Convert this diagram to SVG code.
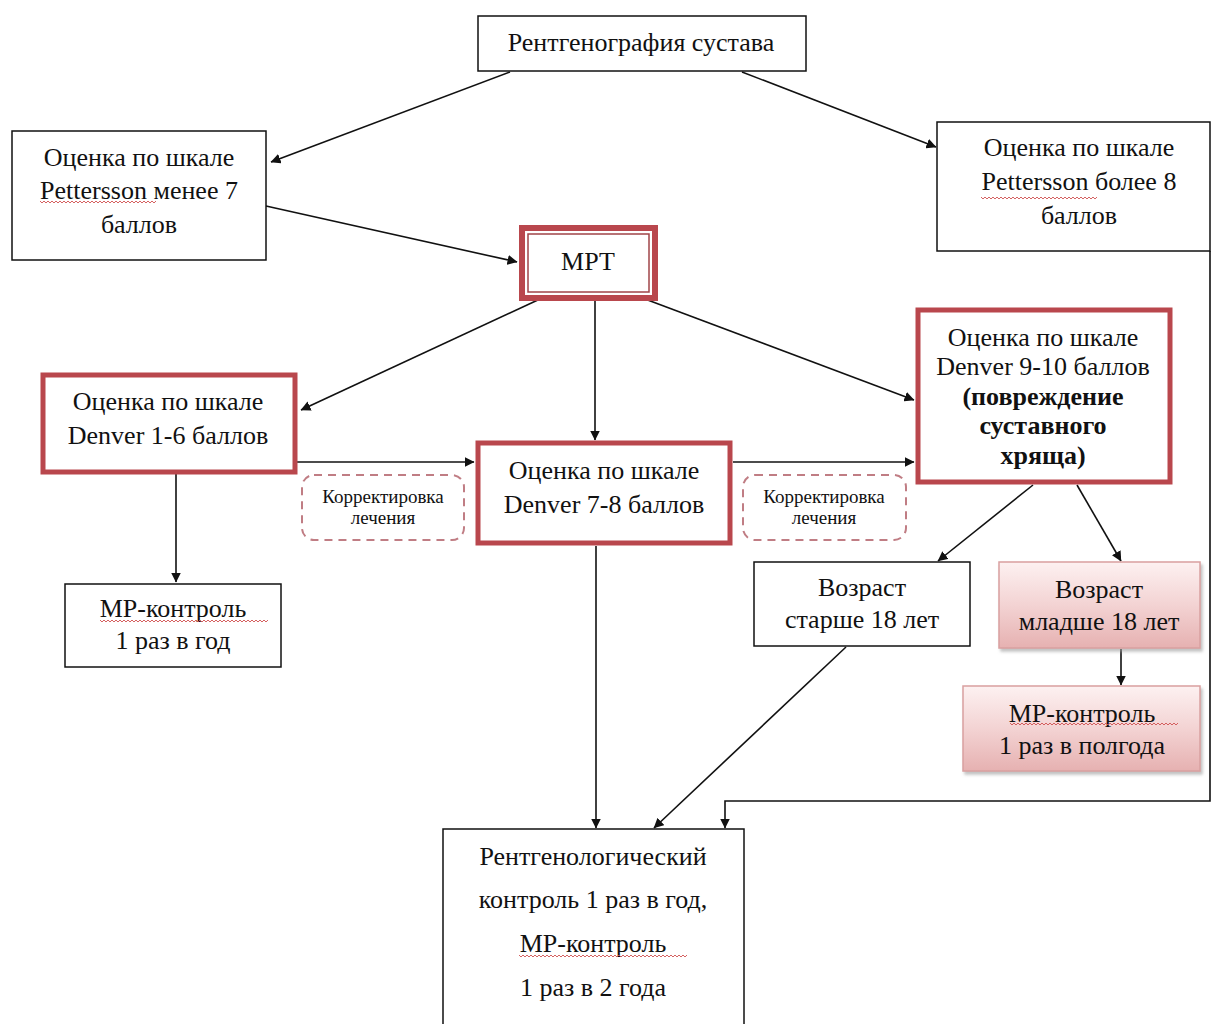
<svg xmlns="http://www.w3.org/2000/svg" width="1212" height="1024" viewBox="0 0 1212 1024" font-family="'Liberation Serif', 'Times New Roman', serif">
<style>
text{font-size:26px;fill:#111;text-anchor:middle}
.b{font-weight:bold}
.s{font-size:19px}
.box{fill:#fff;stroke:#111;stroke-width:1.5}
.red{fill:#fff;stroke:#b9474d;stroke-width:5}
.dash{fill:#fff;stroke:#c07d84;stroke-width:2;stroke-dasharray:8 6}
.pink{fill:url(#pg);stroke:#d9a0a0;stroke-width:1.5}
.c{fill:none;stroke:#111;stroke-width:1.6;marker-end:url(#ah)}
.wave{fill:none;stroke:#d05050;stroke-width:0.9}
</style>
<defs>
<marker id="ah" viewBox="0 0 10 10" refX="9.5" refY="5" markerWidth="10" markerHeight="10" markerUnits="userSpaceOnUse" orient="auto">
<path d="M0,0 L10,5 L0,10 z" fill="#111"/>
</marker>
<linearGradient id="pg" x1="0" y1="0" x2="0" y2="1">
<stop offset="0" stop-color="#fdf1f1"/>
<stop offset="0.5" stop-color="#f3d3d3"/>
<stop offset="1" stop-color="#e6b1b1"/>
</linearGradient>
<filter id="sh" x="-5%" y="-5%" width="115%" height="125%">
<feDropShadow dx="2" dy="3" stdDeviation="1.5" flood-color="#999" flood-opacity="0.6"/>
</filter>
<path id="w108" d="M0,0 l2,2 2,-2 2,2 2,-2 2,2 2,-2 2,2 2,-2 2,2 2,-2 2,2 2,-2 2,2 2,-2 2,2 2,-2 2,2 2,-2 2,2 2,-2 2,2 2,-2 2,2 2,-2 2,2 2,-2 2,2 2,-2 2,2 2,-2 2,2 2,-2 2,2 2,-2 2,2 2,-2 2,2 2,-2 2,2 2,-2 2,2 2,-2 2,2 2,-2 2,2 2,-2 2,2 2,-2 2,2 2,-2 2,2 2,-2 2,2 2,-2 2,2 2,-2 2,2 2,-2"/>
<path id="w144" d="M0,0 l2,2 2,-2 2,2 2,-2 2,2 2,-2 2,2 2,-2 2,2 2,-2 2,2 2,-2 2,2 2,-2 2,2 2,-2 2,2 2,-2 2,2 2,-2 2,2 2,-2 2,2 2,-2 2,2 2,-2 2,2 2,-2 2,2 2,-2 2,2 2,-2 2,2 2,-2 2,2 2,-2 2,2 2,-2 2,2 2,-2 2,2 2,-2 2,2 2,-2 2,2 2,-2 2,2 2,-2 2,2 2,-2 2,2 2,-2 2,2 2,-2 2,2 2,-2 2,2 2,-2 2,2 2,-2 2,2 2,-2 2,2 2,-2 2,2 2,-2 2,2 2,-2 2,2 2,-2 2,2 2,-2 2,2 2,-2 2,2 2,-2 2,2 2,-2 2,2 2,-2 2,2 2,-2 2,2 2,-2"/>
</defs>

<g id="connectors">
<line class="c" x1="510" y1="72" x2="271" y2="162"/>
<line class="c" x1="742" y1="72" x2="936" y2="147"/>
<line class="c" x1="266" y1="206" x2="517" y2="262"/>
<line class="c" x1="540" y1="299" x2="301" y2="410"/>
<line class="c" x1="595" y1="300" x2="595" y2="440"/>
<line class="c" x1="645" y1="299" x2="914" y2="400"/>
<line class="c" x1="297" y1="462" x2="474" y2="462"/>
<line class="c" x1="733" y1="462" x2="914" y2="462"/>
<line class="c" x1="176" y1="474" x2="176" y2="582"/>
<line class="c" x1="1033" y1="485" x2="938" y2="561"/>
<line class="c" x1="1077" y1="485" x2="1121" y2="561"/>
<line class="c" x1="1121" y1="649" x2="1121" y2="685"/>
<line class="c" x1="596" y1="546" x2="596" y2="828"/>
<line class="c" x1="846" y1="647" x2="654" y2="828"/>
<polyline class="c" points="1210,251 1210,801 725,801 725,828"/>
</g>

<g id="n-rentgen">
<rect class="box" x="478" y="16" width="328" height="55"/>
<text x="641" y="51">Рентгенография сустава</text>
</g>

<g id="n-pett-low">
<rect class="box" x="12" y="131" width="254" height="129"/>
<text x="139" y="166">Оценка по шкале</text>
<text x="139" y="199">Pettersson менее 7</text>
<text x="139" y="233">баллов</text>
<use href="#w108" x="40" y="201" class="wave"/>
</g>

<g id="n-pett-high">
<rect class="box" x="937" y="122" width="273" height="129"/>
<text x="1079" y="156">Оценка по шкале</text>
<text x="1079" y="190">Pettersson более 8</text>
<text x="1079" y="224">баллов</text>
<use href="#w108" x="981" y="197" class="wave"/>
</g>

<g id="n-mrt">
<rect x="522" y="228" width="133" height="70" fill="#fff" stroke="#b9474d" stroke-width="6"/>
<rect x="528" y="234" width="121" height="58" fill="#fff" stroke="#a04448" stroke-width="1.5"/>
<text x="588" y="270">МРТ</text>
</g>

<g id="n-denver16">
<rect class="red" x="43" y="375" width="252" height="97"/>
<text x="168" y="410">Оценка по шкале</text>
<text x="168" y="444">Denver 1-6 баллов</text>
</g>

<g id="n-denver78">
<rect class="red" x="478" y="443" width="252" height="100"/>
<text x="604" y="479">Оценка по шкале</text>
<text x="604" y="513">Denver 7-8 баллов</text>
</g>

<g id="n-denver910">
<rect class="red" x="918" y="310" width="252" height="172"/>
<text x="1043" y="346">Оценка по шкале</text>
<text x="1043" y="375">Denver 9-10 баллов</text>
<text class="b" x="1043" y="405">(повреждение</text>
<text class="b" x="1043" y="434">суставного</text>
<text class="b" x="1043" y="464">хряща)</text>
</g>

<g id="n-corr1">
<rect class="dash" x="302" y="475" width="162" height="65" rx="12"/>
<text class="s" x="383" y="503">Корректировка</text>
<text class="s" x="383" y="524">лечения</text>
</g>

<g id="n-corr2">
<rect class="dash" x="743" y="475" width="163" height="65" rx="12"/>
<text class="s" x="824" y="503">Корректировка</text>
<text class="s" x="824" y="524">лечения</text>
</g>

<g id="n-mr-year">
<rect class="box" x="65" y="584" width="216" height="83"/>
<text x="173" y="617">МР-контроль</text>
<text x="173" y="649">1 раз в год</text>
<use href="#w144" x="100" y="620" class="wave"/>
</g>

<g id="n-older">
<rect class="box" x="754" y="562" width="216" height="84"/>
<text x="862" y="596">Возраст</text>
<text x="862" y="628">старше 18 лет</text>
</g>

<g id="n-younger">
<rect class="pink" x="999" y="562" width="201" height="86" filter="url(#sh)"/>
<text x="1099" y="598">Возраст</text>
<text x="1099" y="630">младше 18 лет</text>
</g>

<g id="n-mr-half">
<rect class="pink" x="963" y="686" width="237" height="85" filter="url(#sh)"/>
<text x="1082" y="722">МР-контроль</text>
<text x="1082" y="754">1 раз в полгода</text>
<use href="#w144" x="1010" y="723" class="wave"/>
</g>

<g id="n-final">
<rect class="box" x="443" y="829" width="301" height="200"/>
<text x="593" y="865">Рентгенологический</text>
<text x="593" y="908">контроль 1 раз в год,</text>
<text x="593" y="952">МР-контроль</text>
<text x="593" y="996">1 раз в 2 года</text>
<use href="#w144" x="519" y="955" class="wave"/>
</g>
</svg>
